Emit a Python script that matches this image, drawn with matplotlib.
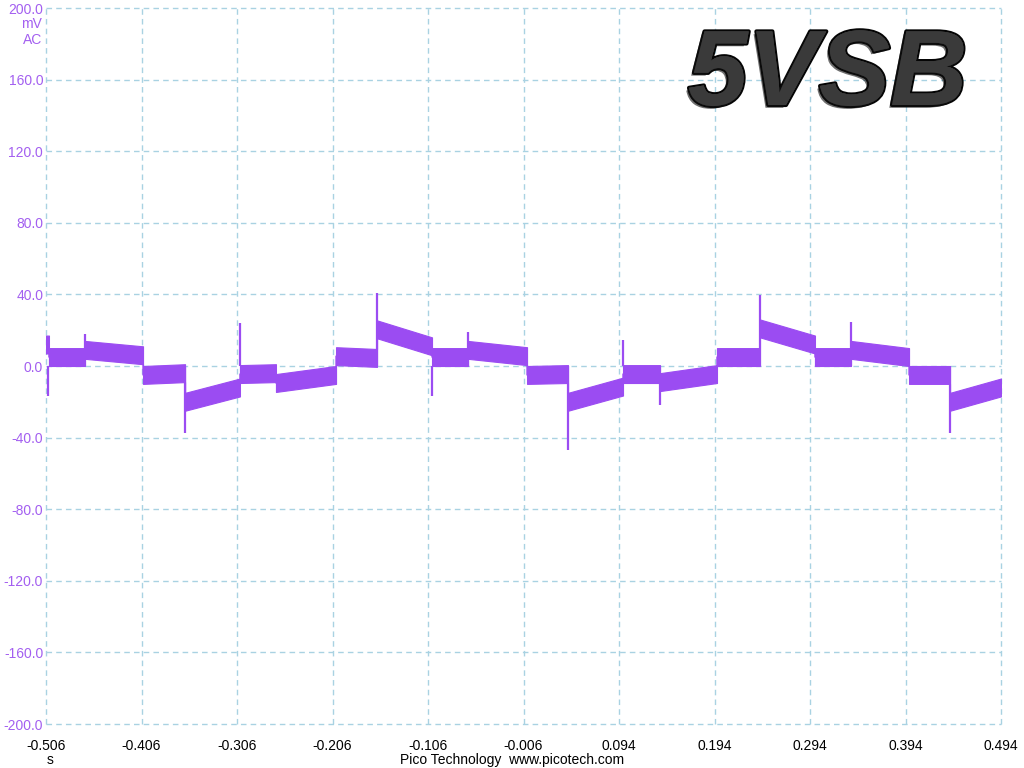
import matplotlib
matplotlib.use('Agg')
import matplotlib.pyplot as plt
import matplotlib.patheffects as pe
import numpy as np

# time axis (s) and voltage (mV AC)
x_ticks = [-0.506, -0.406, -0.306, -0.206, -0.106, -0.006, 0.094, 0.194, 0.294, 0.394, 0.494]
y_ticks = [200, 160, 120, 80, 40, 0, -40, -80, -120, -160, -200]

# ripple segments: start time, end time, centre value at start, centre value at end (mV)
seg_t0 = [-0.506, -0.5029, -0.4652, -0.4044, -0.3604, -0.3029, -0.2652, -0.2023, -0.1594,
          -0.1018, -0.0641, -0.0023, 0.0406, 0.0982, 0.1369, 0.1966, 0.2416, 0.2992,
          0.3369, 0.3977, 0.4406]
seg_t1 = seg_t0[1:] + [0.494]
seg_v0 = [12, 5, 9, -5, -20, -4.5, -9.5, 5.5, 20.5, 5, 9, -5, -20, -4.5, -9, 5, 21, 5, 9, -5, -20]
seg_v1 = [12, 5, 6, -4, -12, -4, -5, 4.5, 11, 5, 5.5, -4.5, -11.5, -4.5, -4.5, 5, 12, 5, 5, -5, -12]
band = 5.0  # half-width of the noise band

# switching spikes: time, peak value
spike_t = [-0.5039, -0.4652, -0.3604, -0.3029, -0.1594, -0.1018, -0.0641, 0.0406,
           0.0982, 0.1369, 0.2416, 0.3369, 0.4406]
spike_v = [-17, 18, -37.5, 24, 40.8, -17, 19, -47, 14.5, -22, 39.7, 24.6, -37.5]

purple = '#9b4cf2'
label_purple = '#a35ff0'
grid_blue = '#a9d2e2'

plt.rcParams['font.family'] = ['Liberation Sans', 'DejaVu Sans']

fig = plt.figure(figsize=(10.24, 7.68), dpi=100)
ax = fig.add_axes([46 / 1024, 1 - 724 / 768, 955 / 1024, 716 / 768])

t = []
v = []
for a, b, va, vb in zip(seg_t0, seg_t1, seg_v0, seg_v1):
    t += [a, b]
    v += [va, vb]
t = np.array(t)
v = np.array(v)
ax.fill_between(t, v - band, v + band, color=purple, linewidth=0.8, edgecolor=purple)
ax.plot(t, v, color=purple, linewidth=1)
ax.vlines(spike_t, 0, spike_v, color=purple, linewidth=1.6)

ax.set_xlim(-0.506, 0.494)
ax.set_ylim(-200, 200)
ax.set_xticks(x_ticks)
ax.set_yticks(y_ticks)
ax.set_xticklabels([f'{x:.3f}' for x in x_ticks])
ax.set_yticklabels([f'{y:.1f}' for y in y_ticks])
for s in ax.spines.values():
    s.set_visible(False)
ax.tick_params(length=0, labelsize=10)
ax.tick_params(axis='y', colors=label_purple, pad=2)
ax.tick_params(axis='x', colors='black', pad=11)
for g in ax.get_xgridlines() + ax.get_ygridlines():
    g.set_clip_on(False)
ax.grid(True, color=grid_blue, linestyle=(0, (4, 3)), linewidth=1)
ax.set_axisbelow(True)

fig.text(42 / 1024, 1 - 24 / 768, 'mV', color=label_purple, fontsize=10, ha='right', va='center')
fig.text(42 / 1024, 1 - 40 / 768, 'AC', color=label_purple, fontsize=10, ha='right', va='center')
fig.text(50 / 1024, 1 - 760 / 768, 's', color='black', fontsize=10, ha='center', va='center')
fig.text(512 / 1024, 1 - 760 / 768, 'Pico Technology  www.picotech.com', color='black',
         fontsize=10, ha='center', va='center')

# big label: dark letters with a grey sheen
fig.text(688 / 1024, 1 - 105 / 768, '5VSB', fontsize=77, fontweight='bold', fontstyle='italic',
         color='#3a3a3a', ha='left', va='baseline',
         path_effects=[pe.withStroke(linewidth=3, foreground='#050505'),
                       pe.Normal(),
                       pe.withSimplePatchShadow(offset=(-2, -2), shadow_rgbFace='#101010', alpha=0.6)])

fig.savefig('out.png', dpi=100)
